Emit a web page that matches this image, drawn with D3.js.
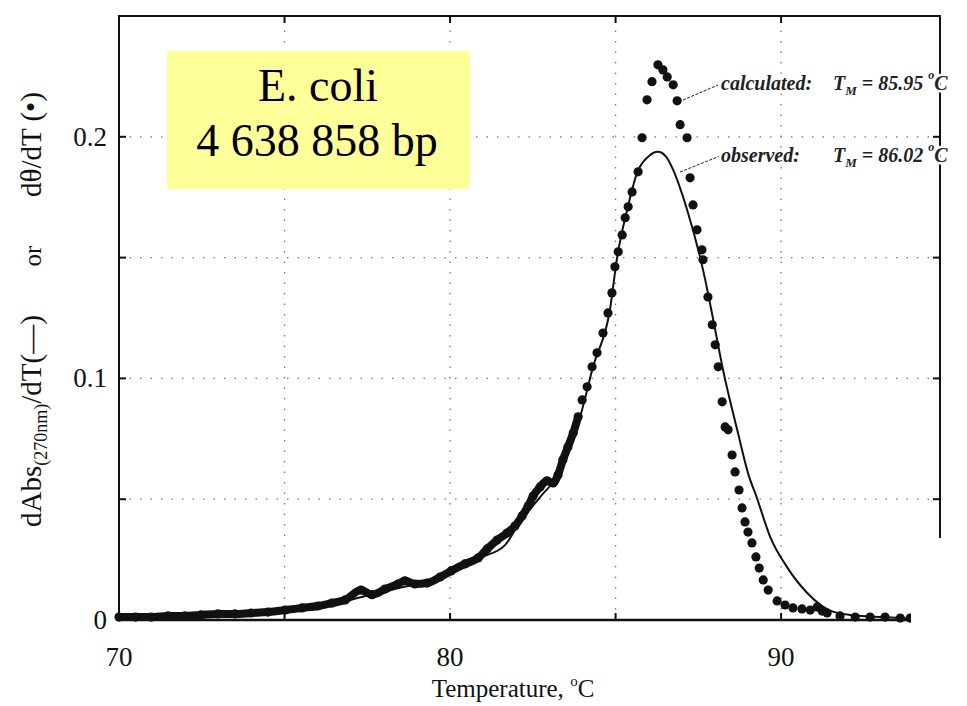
<!DOCTYPE html>
<html>
<head>
<meta charset="utf-8">
<script src="https://cdn.jsdelivr.net/npm/d3@7"></script>
<style>
  body { margin: 0; background: #fff; }
  svg { display: block; font-family: "Liberation Serif", "DejaVu Serif", serif; }
</style>
</head>
<body>
<svg id="chart" width="967" height="706"></svg>
<script>
// Observed melting curve (solid line): dAbs(270nm)/dT
const observedTemp = [70.0, 72.45, 75.05, 76.07, 76.98, 78.19, 79.09, 80.06, 80.91, 81.66, 82.11, 82.72, 83.32,
  83.93, 84.32, 84.83, 85.05, 85.35, 85.65, 85.98, 86.28, 86.53, 86.74, 87.16, 87.55, 87.7, 87.95, 88.25, 88.68,
  89.0, 89.27, 89.67, 90.18, 90.79, 91.45, 92.08, 93.6, 93.93];
const observedDeriv = [0.0004, 0.0012, 0.0033, 0.005, 0.0083, 0.0124, 0.0153, 0.0199, 0.0257, 0.031, 0.0406, 0.0509, 0.0613,
  0.0841, 0.1048, 0.1284, 0.1503, 0.1698, 0.1851, 0.1917, 0.1938, 0.1917, 0.1863, 0.1698, 0.1503, 0.1413, 0.1243, 0.1033, 0.0784,
  0.0608, 0.0505, 0.0344, 0.0219, 0.0112, 0.0041, 0.0021, 0.0008, 0.0004];

// Calculated curve (dots): dθ/dT
const calculatedTemp = [70.0, 70.5, 70.97, 71.48, 71.99, 72.48, 72.99, 73.5, 73.99, 74.5, 75.02, 75.53, 76.01, 76.43,
  76.83, 77.31, 77.64, 78.04, 78.43, 78.64, 78.94, 79.31, 79.7, 80.03, 80.45, 80.85, 81.12, 81.42, 81.72, 81.96,
  82.18, 82.36, 82.51, 82.72, 82.93, 83.11, 83.26, 83.41, 83.56, 83.72, 83.87, 83.99, 84.14, 84.29, 84.44, 84.62,
  84.77, 84.89, 84.98, 85.08, 85.2, 85.29, 85.38, 85.5, 85.68, 85.8, 85.95, 86.1, 86.28, 86.43, 86.56, 86.74,
  86.86, 86.95, 87.16, 87.25, 87.34, 87.46, 87.61, 87.64, 87.79, 87.92, 88.01, 88.1, 88.22, 88.31, 88.4, 88.52,
  88.61, 88.73, 88.82, 88.91, 89.0, 89.12, 89.24, 89.34, 89.46, 89.61, 89.88, 90.12, 90.36, 90.63, 90.88, 91.09,
  91.24, 91.39, 91.78, 92.24, 92.69, 93.14, 93.6, 93.9];
const calculatedDeriv = [0.0012, 0.0012, 0.0012, 0.0017, 0.0017, 0.0021, 0.0025, 0.0025, 0.0029, 0.0033, 0.0041, 0.005, 0.0058, 0.007,
  0.0083, 0.0124, 0.0105, 0.0128, 0.0149, 0.0162, 0.0149, 0.0153, 0.0178, 0.0203, 0.0232, 0.0257, 0.0294, 0.0331, 0.036, 0.0389,
  0.0431, 0.0472, 0.0513, 0.0551, 0.0576, 0.0567, 0.06, 0.0663, 0.0716, 0.0774, 0.0841, 0.0911, 0.0965, 0.1048, 0.1106, 0.1188,
  0.1271, 0.1354, 0.1462, 0.1524, 0.1594, 0.1665, 0.171, 0.1772, 0.1855, 0.1996, 0.2153, 0.2228, 0.2298, 0.2277, 0.2248, 0.2215,
  0.2149, 0.205, 0.1996, 0.183, 0.1718, 0.1615, 0.1532, 0.1491, 0.1337, 0.1222, 0.1139, 0.1048, 0.0903, 0.0799, 0.0787, 0.0683,
  0.0613, 0.0538, 0.0464, 0.0406, 0.0364, 0.0319, 0.0261, 0.0215, 0.0166, 0.0124, 0.0079, 0.0062, 0.005, 0.0046, 0.0041, 0.0054,
  0.0037, 0.0029, 0.0017, 0.0012, 0.0012, 0.0012, 0.0008, 0.0008];

const xTicks = [75, 80, 85, 90];
const xLabels = [70, 80, 90];
const yTicks = [0.05, 0.1, 0.15, 0.2];
const yLabels = [0, 0.1, 0.2];

const svg = d3.select("#chart");
const x = d3.scaleLinear().domain([70, 94.8]).range([119, 940]);
const y = d3.scaleLinear().domain([0, 0.25]).range([620, 16]);
const [x0, x1] = x.range(), [y0, y1] = y.range();

// dotted grid
const grid = svg.append("g").attr("stroke", "#777").attr("stroke-width", 1.3)
  .attr("stroke-dasharray", "1.5,9");
grid.selectAll(".gx").data(xTicks).join("line")
  .attr("x1", d => x(d)).attr("x2", d => x(d)).attr("y1", y0).attr("y2", y1);
grid.selectAll(".gy").data(yTicks).join("line")
  .attr("y1", d => y(d)).attr("y2", d => y(d)).attr("x1", x0).attr("x2", x1);

// frame
svg.append("rect").attr("x", x0).attr("y", y1).attr("width", x1 - x0).attr("height", y0 - y1)
  .attr("fill", "none").attr("stroke", "#111").attr("stroke-width", 2);

// inward ticks on all sides
const tk = svg.append("g").attr("stroke", "#111").attr("stroke-width", 2);
xTicks.forEach(t => {
  tk.append("line").attr("x1", x(t)).attr("x2", x(t)).attr("y1", y0).attr("y2", y0 - 7);
  tk.append("line").attr("x1", x(t)).attr("x2", x(t)).attr("y1", y1).attr("y2", y1 + 7);
});
yTicks.forEach(t => {
  tk.append("line").attr("y1", y(t)).attr("y2", y(t)).attr("x1", x0).attr("x2", x0 + 7);
  tk.append("line").attr("y1", y(t)).attr("y2", y(t)).attr("x1", x1).attr("x2", x1 - 7);
});

// calculated: dense band where the dots overlap, then dots
const calc = calculatedTemp.map((t, i) => [t, calculatedDeriv[i]]);
const obs = observedTemp.map((t, i) => [t, observedDeriv[i]]);
const line = d3.line().x(d => x(d[0])).y(d => y(d[1])).curve(d3.curveMonotoneX);

svg.append("path").datum(calc.filter(d => d[0] <= 83.9)).attr("d", line)
  .attr("fill", "none").attr("stroke", "#111").attr("stroke-width", 8)
  .attr("stroke-linecap", "round").attr("stroke-linejoin", "round");
svg.append("g").selectAll("circle").data(calc).join("circle")
  .attr("cx", d => x(d[0])).attr("cy", d => y(d[1])).attr("r", 4.6).attr("fill", "#111");

// observed: solid line
svg.append("path").datum(obs).attr("d", line)
  .attr("fill", "none").attr("stroke", "#111").attr("stroke-width", 2);

// white patch over the lower right corner (as in the source image)
svg.append("rect").attr("x", 911).attr("y", 538).attr("width", 56).attr("height", 168).attr("fill", "#fff");
svg.append("line").attr("x1", x0).attr("x2", 911).attr("y1", y0).attr("y2", y0)
  .attr("stroke", "#111").attr("stroke-width", 2.5);

// tick labels
svg.append("g").selectAll("text").data(yLabels).join("text")
  .attr("x", 107).attr("y", d => y(d) + 9).attr("text-anchor", "end")
  .attr("font-size", 27).attr("fill", "#111").text(d => d === 0 ? "0" : d3.format(".1f")(d));
svg.append("g").selectAll("text").data(xLabels).join("text")
  .attr("x", d => x(d)).attr("y", 666).attr("text-anchor", "middle")
  .attr("font-size", 27).attr("fill", "#111").text(d => d);

// x title
const xt = svg.append("text").attr("x", 513).attr("y", 697).attr("text-anchor", "middle")
  .attr("font-size", 25).attr("fill", "#111");
xt.append("tspan").text("Temperature, ");
xt.append("tspan").attr("font-size", 15).attr("dy", -11).text("o");
xt.append("tspan").attr("dy", 11).text("C");

// y title, three pieces along the rotated axis
const yl = svg.append("text").attr("transform", "translate(41,527) rotate(-90)")
  .attr("font-size", 29).attr("fill", "#111");
yl.append("tspan").text("dAbs");
yl.append("tspan").attr("font-size", 18).attr("dy", 6).text("(270nm)");
yl.append("tspan").attr("dy", -6).text("/dT(—)");
svg.append("text").attr("transform", "translate(41,256) rotate(-90)").attr("text-anchor", "middle")
  .attr("font-size", 25).attr("fill", "#111").text("or");
svg.append("text").attr("transform", "translate(41,197) rotate(-90)")
  .attr("font-size", 29).attr("fill", "#111").text("dθ/dT (•)");

// label box
svg.append("rect").attr("x", 167).attr("y", 51).attr("width", 303).attr("height", 138).attr("fill", "#ffff99");
svg.append("text").attr("x", 318).attr("y", 101).attr("text-anchor", "middle")
  .attr("font-size", 46).attr("fill", "#000").text("E. coli");
svg.append("text").attr("x", 317).attr("y", 156).attr("text-anchor", "middle")
  .attr("font-size", 46).attr("fill", "#000").text("4 638 858 bp");

// annotations
const notes = [
  { name: "calculated:", tm: "85.95", y: 90, from: [683, 100], to: [718, 85] },
  { name: "observed:", tm: "86.02", y: 162, from: [680, 172], to: [720, 156] }
];
notes.forEach(n => {
  svg.append("line").attr("x1", n.from[0]).attr("y1", n.from[1]).attr("x2", n.to[0]).attr("y2", n.to[1])
    .attr("stroke", "#222").attr("stroke-width", 1).attr("stroke-dasharray", "3,1.5");
  const t = svg.append("text").attr("x", 721).attr("y", n.y)
    .attr("font-size", 20).attr("font-style", "italic").attr("font-weight", "bold").attr("fill", "#222")
    .attr("stroke", "#fff").attr("stroke-width", 5).attr("paint-order", "stroke");
  t.append("tspan").text(n.name);
  t.append("tspan").attr("x", 833).text("T");
  t.append("tspan").attr("font-size", 13).attr("dy", 5).text("M");
  t.append("tspan").attr("dy", -5).text(" = " + n.tm + " ");
  t.append("tspan").attr("font-size", 12).attr("dy", -11).text("o");
  t.append("tspan").attr("dy", 11).text("C");
});
</script>
</body>
</html>
